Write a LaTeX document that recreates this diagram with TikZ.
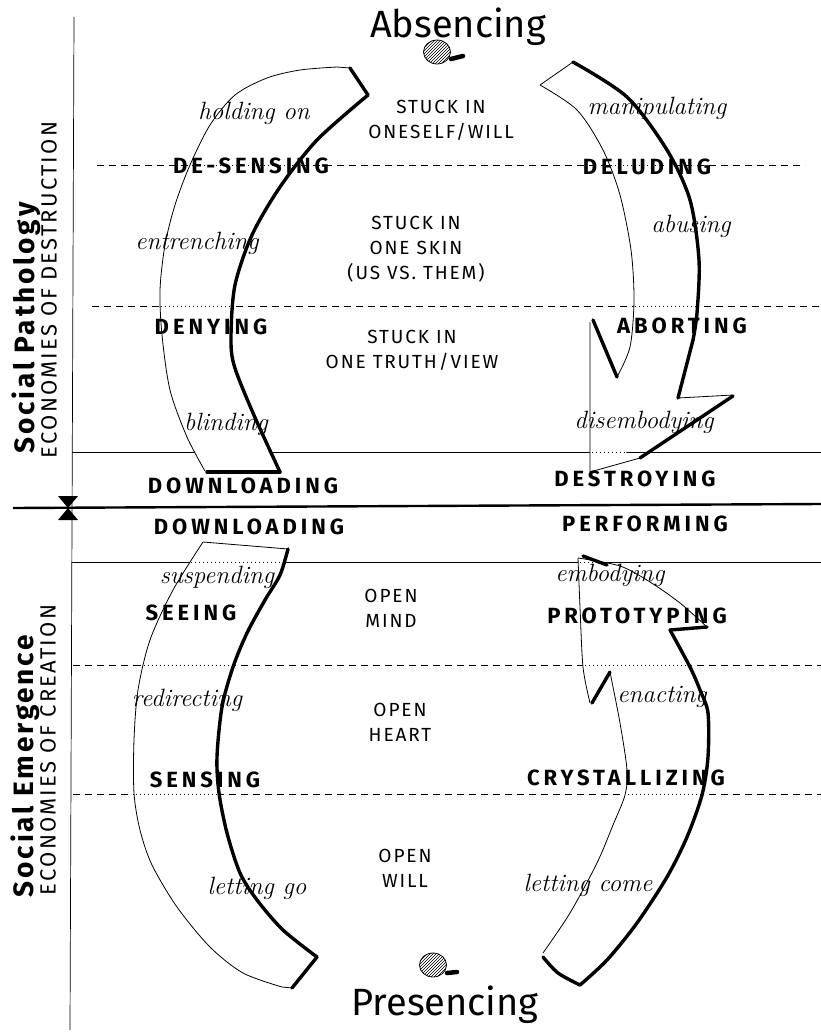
\documentclass[tikz,border=0pt]{standalone}
\usepackage{fontspec}
\usetikzlibrary{patterns,shapes.geometric}
\newfontfamily\handfont{Fira Sans}
\newfontfamily\capsfont[LetterSpace=10]{Fira Sans}
\newfontfamily\markfont[LetterSpace=18]{Fira Sans}
\newfontfamily\titlefont[LetterSpace=10]{Fira Sans}
\tikzset{bandthin/.style={line width=0.8pt, line join=round}}
\tikzset{bandthick/.style={line width=3.4pt, line cap=round, line join=round}}
\tikzset{gridline/.style={line width=0.7pt}}
\tikzset{griddash/.style={line width=0.8pt, dash pattern=on 7pt off 5pt}}
\tikzset{griddot/.style={line width=0.9pt, dash pattern=on 1pt off 3pt}}
\tikzset{stagename/.style={font=\markfont\bfseries\fontsize{22}{24}\selectfont, inner sep=0pt}}
\tikzset{movename/.style={font=\itshape\fontsize{25}{27}\selectfont, inner sep=0pt}}
\tikzset{fieldtext/.style={font=\capsfont\fontsize{19}{25}\selectfont, align=center, inner sep=0pt}}
\tikzset{pole/.style={font=\handfont\fontsize{38}{40}\selectfont, inner sep=0pt}}
\tikzset{hatchball/.style={ellipse, draw, line width=0.8pt, pattern=north east lines, minimum width=27pt, minimum height=24pt, inner sep=0pt}}
\tikzset{sidetitle/.style={rotate=90, font=\titlefont\bfseries\fontsize{28}{30}\selectfont, inner sep=0pt}}
\tikzset{sidesub/.style={rotate=90, font=\capsfont\fontsize{22}{24}\selectfont, inner sep=0pt}}
\begin{document}
\begin{tikzpicture}[x=1pt,y=-1pt]
	\useasboundingbox (0,0) rectangle (821,1036);
	\draw[gridline] (74,17) -- (70,1030);
	\draw[line width=2.4pt] (13,508) -- (821,504);
	\fill (58,496) -- (78,496) -- (58,520) -- (78,520) -- cycle;
	\foreach \yy in {452,562}
		\draw[gridline] (72,\yy) -- (821,\yy);
	\foreach \yy/\xa/\xb in {165/97/805,306/92/821,665/73/821,794/73/821}
		\draw[griddash] (\xa,\yy) -- (\xb,\yy);

	\fill[white] plot[smooth] coordinates {(337,67) (300,70) (267,78) (235,95) (210,125) (190,165) (175,205) (165,245) (160,290) (162,335) (170,390) (187,437) (205,471)}
		-- plot[smooth] coordinates {(280,472) (253,413) (234,365) (231,335) (235,285) (252,235) (280,187) (317,140) (368,95)} -- (350,68) -- cycle;
	\fill[white] plot[smooth] coordinates {(573,62) (627,97) (667,150) (690,200) (699,260) (697,313) (693,340)} -- (678,398) -- (733,395) -- (590,472) -- (590,322) -- (617,377)
		-- plot[smooth] coordinates {(630,347) (634,300) (631,250) (620,195) (603,150) (577,110) (540,85)} -- cycle;
	\fill[white] plot[smooth] coordinates {(203,542) (173,590) (150,640) (138,690) (134,740) (134,793) (140,830) (152,865) (177,907) (210,947) (243,973) (282,987)} -- (292,988)
		-- plot[smooth] coordinates {(317,957) (283,930) (257,900) (240,873) (227,833) (219,793) (217,757) (222,707) (233,667) (247,633) (265,600) (280,575) (288,549)} -- cycle;
	\fill[white] plot[smooth] coordinates {(580,985) (607,960) (637,923) (667,877) (687,837) (702,795) (708,757) (708,713) (700,690) (690,667) (670,630)} -- (707,627)
		-- plot[smooth] coordinates {(680,603) (650,582) (620,566) (578,558)} -- plot[smooth] coordinates {(580,607) (583,667) (590,703)} -- (610,672)
		-- plot[smooth] coordinates {(620,723) (627,770) (625,795) (613,825) (597,863) (570,913) (543,953)} -- cycle;
	\foreach \yy/\xa/\xb in {165/192/294,165/611/664,306/161/233,306/635/697,452/592/628,562/191/281,562/580/603,665/140/231,665/585/688,794/136/217,794/628/701}
		\draw[griddot] (\xa,\yy) -- (\xb,\yy);

	\draw[bandthin] plot[smooth] coordinates {(337,67) (300,70) (267,78) (235,95) (210,125) (190,165) (175,205) (165,245) (160,290) (162,335) (170,390) (187,437) (205,471)};
	\draw[bandthick] (207,472) -- (280,472);
	\draw[bandthick] plot[smooth] coordinates {(280,472) (253,413) (234,365) (231,335) (235,285) (252,235) (280,187) (317,140) (368,95)};
	\draw[bandthick] (368,95) -- (350,68);
	\draw[bandthin] (350,68) -- (337,67);

	\draw[bandthick] plot[smooth] coordinates {(573,62) (627,97) (667,150) (690,200) (699,260) (697,313) (693,340)};
	\draw[bandthick] (693,340) -- (678,398);
	\draw[bandthin] (678,398) -- (733,395);
	\draw[bandthick] (733,396) -- (640,458);
	\draw[bandthin] (640,458) -- (590,472) -- (590,322);
	\draw[bandthick] (593,320) -- (617,377);
	\draw[bandthin] plot[smooth] coordinates {(617,377) (630,347) (634,300) (631,250) (620,195) (603,150) (577,110) (540,85)};
	\draw[bandthin] (540,85) -- (573,62);

	\draw[bandthin] plot[smooth] coordinates {(203,542) (173,590) (150,640) (138,690) (134,740) (134,793) (140,830) (152,865) (177,907) (210,947) (243,973) (282,987)};
	\draw[bandthin] (282,987) -- (292,988);
	\draw[bandthick] (292,988) -- (317,957);
	\draw[bandthick] plot[smooth] coordinates {(317,957) (283,930) (257,900) (240,873) (227,833) (219,793) (217,757) (222,707) (233,667) (247,633) (265,600) (280,575) (288,549)};
	\draw[bandthin] (288,549) -- (203,542);

	\draw[bandthick] plot[smooth] coordinates {(580,985) (607,960) (637,923) (667,877) (687,837) (702,795) (708,757) (708,713) (700,690) (690,667) (670,630)};
	\draw[bandthick] (670,630) -- (707,627);
	\draw[bandthin] plot[smooth] coordinates {(707,627) (680,603) (650,582) (620,566) (578,558)};
	\draw[bandthick] (583,556) -- (607,565);
	\draw[bandthin] plot[smooth] coordinates {(578,558) (580,607) (583,667) (590,703)};
	\draw[bandthick] (592,703) -- (610,672);
	\draw[bandthin] plot[smooth] coordinates {(610,672) (620,723) (627,770) (625,795) (613,825) (597,863) (570,913) (543,953)};
	\draw[bandthick] plot[smooth] coordinates {(543,957) (558,973) (580,985)};

	\node[hatchball] (absencedot) at (437,52) {};
	\draw[line width=4.5pt, line cap=round] (451,59) -- (463,56);
	\node[hatchball] (presencedot) at (433,965) {};
	\draw[line width=4.5pt, line cap=round] (447,973) -- (457,972);
	\node[pole] (absencing) at (458,27) {Absencing};
	\node[pole] (presencing) at (445,1005) {Presencing};

	\node[sidetitle] (pathology) at (26,328) {Social Pathology};
	\node[sidesub] (destruction) at (49,290) {ECONOMIES OF DESTRUCTION};
	\node[sidetitle] (emergence) at (25,766) {Social Emergence};
	\node[sidesub] (creation) at (48,750) {ECONOMIES OF CREATION};

	\foreach \nm/\px/\py/\txt in {desensing/251/166/DE-SENSING,deluding/647/167/DELUDING,denying/211/327/DENYING,aborting/682/326/ABORTING,
		downloadup/243/486/DOWNLOADING,destroying/635/479/DESTROYING,downloadlow/249/527/DOWNLOADING,performing/645/524/PERFORMING,
		seeing/191/613/SEEING,prototyping/637/616/PROTOTYPING,sensing/205/780/SENSING,crystallizing/626/778/CRYSTALLIZING}
		\node[stagename] (\nm) at (\px,\py) {\txt};
	\foreach \nm/\px/\py/\txt in {holdingon/254/113/holding on,entrenching/197/243/entrenching,blinding/226/424/blinding,
		manipulating/657/108/manipulating,abusing/691/226/abusing,disembodying/644/422/disembodying,
		suspending/217/577/suspending,redirecting/187/700/redirecting,lettinggo/257/888/letting go,
		embodying/610/575/embodying,enacting/662/697/enacting,lettingcome/588/885/letting come}
		\node[movename] (\nm) at (\px,\py) {\txt};
	\foreach \nm/\px/\py/\txt in {stuckwill/441/120/{STUCK IN\\ONESELF/WILL},stuckskin/416/249/{STUCK IN\\ONE SKIN\\(US VS. THEM)},
		stucktruth/412/350/{STUCK IN\\ONE TRUTH/VIEW},openmind/391/608/{OPEN\\MIND},openheart/400/722/{OPEN\\HEART},openwill/405/868/{OPEN\\WILL}}
		\node[fieldtext] (\nm) at (\px,\py) {\txt};
\end{tikzpicture}
\end{document}
